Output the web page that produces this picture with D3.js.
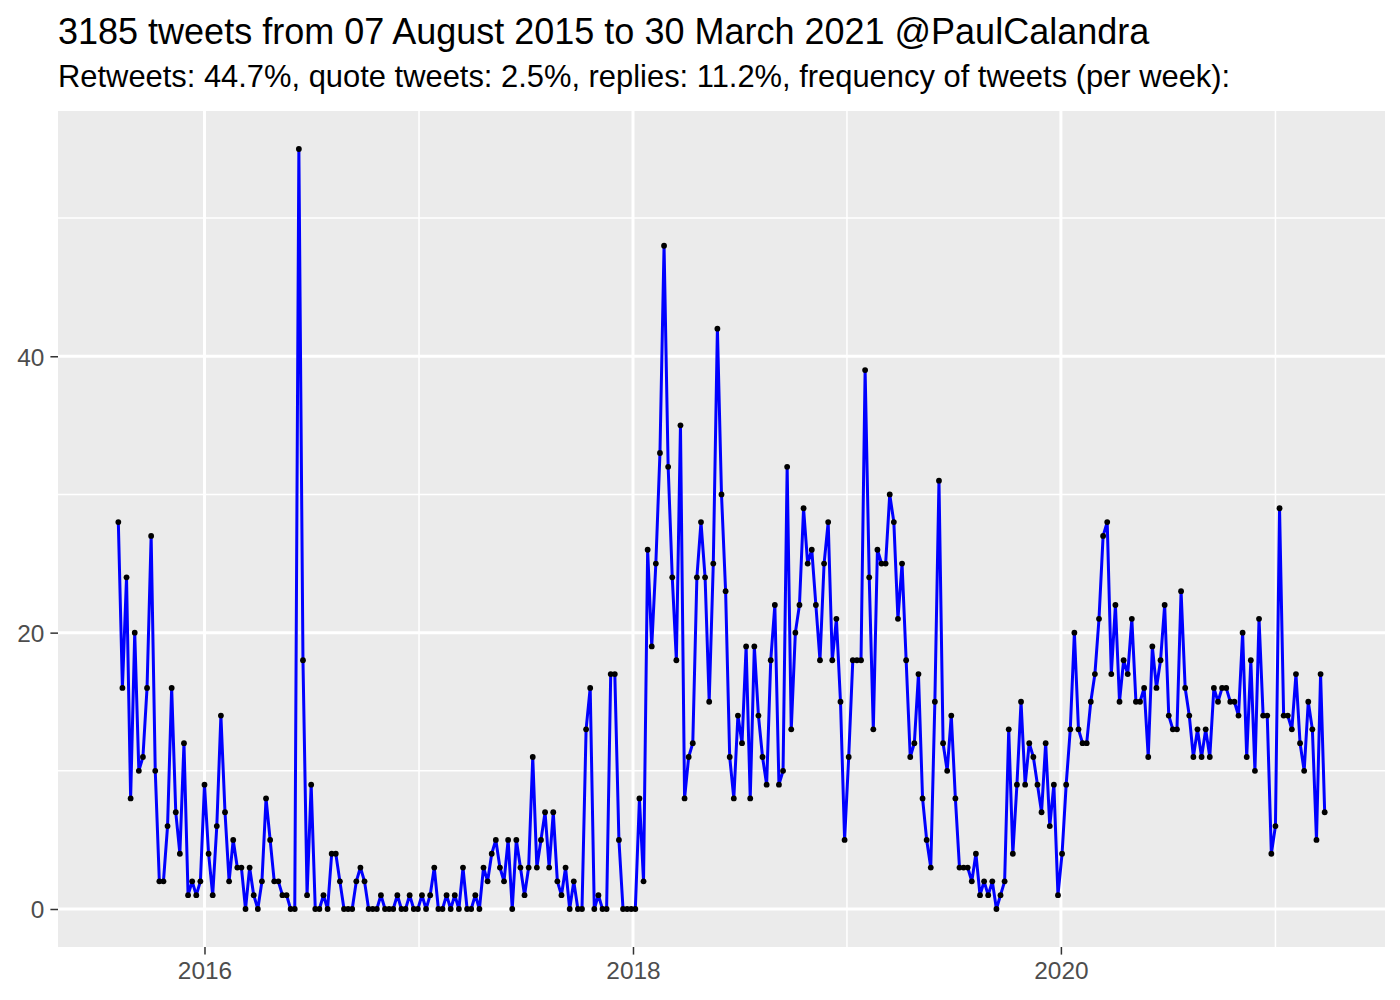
<!DOCTYPE html>
<html>
<head>
<meta charset="utf-8">
<script src="https://cdn.jsdelivr.net/npm/d3@7"></script>
<style>
  body { margin: 0; background: #fff; }
  svg text { font-family: "Liberation Sans", Arial, sans-serif; }
</style>
</head>
<body>
<div id="chart"></div>
<script>
// first weekly bin, then one value per week
var startDate = "2015-08-07"

var weeklyCounts = [
  28, 16, 24, 8, 20, 10, 11, 16, 27, 10, 2, 2, 6, 16, 7, 4, 12, 1, 2, 1, 2, 9, 4, 1, 6,
  14, 7, 2, 5, 3, 3, 0, 3, 1, 0, 2, 8, 5, 2, 2, 1, 1, 0, 0, 55, 18, 1, 9, 0, 0,
  1, 0, 4, 4, 2, 0, 0, 0, 2, 3, 2, 0, 0, 0, 1, 0, 0, 0, 1, 0, 0, 1, 0, 0, 1,
  0, 1, 3, 0, 0, 1, 0, 1, 0, 3, 0, 0, 1, 0, 3, 2, 4, 5, 3, 2, 5, 0, 5, 3, 1,
  3, 11, 3, 5, 7, 3, 7, 2, 1, 3, 0, 2, 0, 0, 13, 16, 0, 1, 0, 0, 17, 17, 5, 0, 0, 0, 0,
  8, 2, 26, 19, 25, 33, 48, 32, 24, 18, 35, 8, 11, 12, 24, 28, 24, 15, 25, 42, 30, 23, 11, 8, 14, 12,
  19, 8, 19, 14, 11, 9, 18, 22, 9, 10, 32, 13, 20, 22, 29, 25, 26, 22, 18, 25, 28, 18, 21, 15, 5,
  11, 18, 18, 18, 39, 24, 13, 26, 25, 25, 30, 28, 21, 25, 18, 11, 12, 17, 8, 5, 3, 15, 31, 12, 10, 14,
  8, 3, 3, 3, 2, 4, 1, 2, 1, 2, 0, 1, 2, 13, 4, 9, 15, 9, 12, 11, 9, 7, 12, 6, 9, 1,
  4, 9, 13, 20, 13, 12, 12, 15, 17, 21, 27, 28, 17, 22, 15, 18, 17, 21, 15, 15, 16, 11, 19, 16, 18,
  22, 14, 13, 13, 23, 16, 14, 11, 13, 11, 13, 11, 16, 15, 16, 16, 15, 15, 14, 20, 11, 18, 10, 21, 14,
  14, 4, 6, 29, 14, 14, 13, 17, 12, 10, 15, 13, 5, 17, 7
]

var yTicks = [0, 20, 40]
var yMinorTicks = [10, 30, 50]
var xTickYears = [2016, 2018, 2020]
var xMinorYears = [2017, 2019, 2021]

var titleText = "3185 tweets from 07 August 2015 to 30 March 2021 @PaulCalandra"
var subtitleText = "Retweets: 44.7%, quote tweets: 2.5%, replies: 11.2%, frequency of tweets (per week):"

var outerWidth = 1400,
  outerHeight = 1000
var margin = {top: 111, right: 15, bottom: 53, left: 58}

var t0 = d3.utcParse("%Y-%m-%d")(startDate)
var data = weeklyCounts.map(function (v, i) {
  return { date: d3.utcDay.offset(t0, i * 7), n: v }
})

const svg = d3.select("#chart")
  .append("svg")
  .attr("width", outerWidth)
  .attr("height", outerHeight)

// ggplot style 5% expansion on both axes
var xExt = d3.extent(data, d => d.date)
var xPad = (xExt[1] - xExt[0]) * 0.05
var x = d3.scaleUtc()
  .domain([new Date(+xExt[0] - xPad), new Date(+xExt[1] + xPad)])
  .range([margin.left, outerWidth - margin.right])

var yMax = d3.max(data, d => d.n)
var y = d3.scaleLinear()
  .domain([-yMax * 0.05, yMax * 1.05])
  .range([outerHeight - margin.bottom, margin.top])

// panel
svg.append("rect")
  .attr("x", margin.left)
  .attr("y", margin.top)
  .attr("width", outerWidth - margin.left - margin.right)
  .attr("height", outerHeight - margin.top - margin.bottom)
  .attr("fill", "#EBEBEB")

const grid = svg.append("g")

grid.selectAll(".hminor")
  .data(yMinorTicks)
  .join("line")
  .attr("x1", margin.left).attr("x2", outerWidth - margin.right)
  .attr("y1", d => y(d)).attr("y2", d => y(d))
  .attr("stroke", "#fff").attr("stroke-width", 1.5)

grid.selectAll(".vminor")
  .data(xMinorYears)
  .join("line")
  .attr("y1", margin.top).attr("y2", outerHeight - margin.bottom)
  .attr("x1", d => x(Date.UTC(d, 0, 1))).attr("x2", d => x(Date.UTC(d, 0, 1)))
  .attr("stroke", "#fff").attr("stroke-width", 1.5)

grid.selectAll(".hmajor")
  .data(yTicks)
  .join("line")
  .attr("x1", margin.left).attr("x2", outerWidth - margin.right)
  .attr("y1", d => y(d)).attr("y2", d => y(d))
  .attr("stroke", "#fff").attr("stroke-width", 3)

grid.selectAll(".vmajor")
  .data(xTickYears)
  .join("line")
  .attr("y1", margin.top).attr("y2", outerHeight - margin.bottom)
  .attr("x1", d => x(Date.UTC(d, 0, 1))).attr("x2", d => x(Date.UTC(d, 0, 1)))
  .attr("stroke", "#fff").attr("stroke-width", 3)

// weekly line + points
var line = d3.line()
  .x(d => x(d.date))
  .y(d => y(d.n))

svg.append("path")
  .datum(data)
  .attr("d", line)
  .attr("fill", "none")
  .attr("stroke", "#0000FF")
  .attr("stroke-width", 3)
  .attr("stroke-linejoin", "round")

svg.append("g")
  .selectAll("circle")
  .data(data)
  .join("circle")
  .attr("cx", d => x(d.date))
  .attr("cy", d => y(d.n))
  .attr("r", 2.9)
  .attr("fill", "#000")

// axes
const xAxis = svg.append("g")
  .attr("transform", "translate(0," + (outerHeight - margin.bottom) + ")")
  .call(d3.axisBottom(x)
    .tickValues(xTickYears.map(yr => new Date(Date.UTC(yr, 0, 1))))
    .tickFormat(d3.utcFormat("%Y"))
    .tickSize(7.6)
    .tickPadding(6))
xAxis.select(".domain").remove()
xAxis.selectAll(".tick line").attr("stroke", "#333333").attr("stroke-width", 1.5)
xAxis.selectAll(".tick text")
  .attr("fill", "#4D4D4D")
  .attr("font-size", 24.4)
  .attr("dy", "0.76em")

const yAxis = svg.append("g")
  .attr("transform", "translate(" + margin.left + ",0)")
  .call(d3.axisLeft(y)
    .tickValues(yTicks)
    .tickSize(7.6)
    .tickPadding(6))
yAxis.select(".domain").remove()
yAxis.selectAll(".tick line").attr("stroke", "#333333").attr("stroke-width", 1.5)
yAxis.selectAll(".tick text")
  .attr("fill", "#4D4D4D")
  .attr("font-size", 24.4)
  .attr("dy", "0.36em")

// titles
svg.append("text")
  .attr("x", margin.left)
  .attr("y", 44)
  .attr("font-size", 36)
  .attr("fill", "#000")
  .text(titleText)

svg.append("text")
  .attr("x", margin.left)
  .attr("y", 87)
  .attr("font-size", 30.9)
  .attr("fill", "#000")
  .text(subtitleText)
</script>
</body>
</html>
